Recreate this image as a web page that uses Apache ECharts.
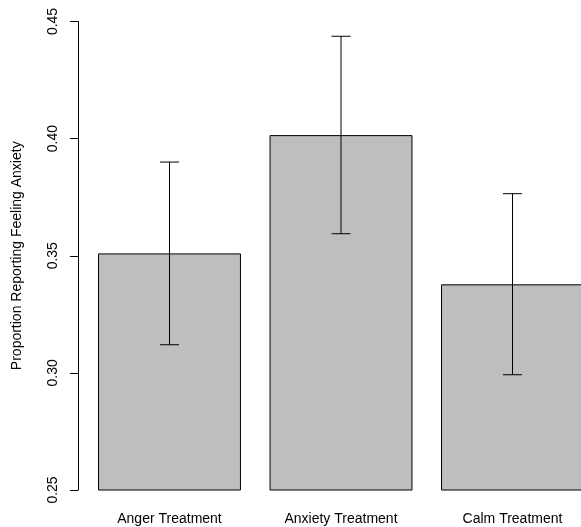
<!DOCTYPE html>
<html>
<head>
<meta charset="utf-8">
<script src="https://cdn.jsdelivr.net/npm/echarts@6/dist/echarts.min.js"></script>
<style>
html,body{margin:0;padding:0;background:#fff;}
#chart{width:581px;height:527px;}
</style>
</head>
<body>
<div id="chart"></div>
<script>
const categories = ['Anger Treatment', 'Anxiety Treatment', 'Calm Treatment'];
const means = [0.351, 0.4015, 0.3378];
const lowerCI = [0.312, 0.3594, 0.2992];
const upperCI = [0.390, 0.4437, 0.3765];
const yTicks = [0.25, 0.30, 0.35, 0.40, 0.45];

const chart = echarts.init(document.getElementById('chart'), null, {renderer: 'canvas'});
const FONT = 'Liberation Sans, Arial, Helvetica, sans-serif';

const errData = categories.map((c, i) => [i, lowerCI[i], upperCI[i]]);

chart.setOption({
  animation: false,
  backgroundColor: '#ffffff',
  grid: {left: 83.75, width: 514.5, top: 21.5, bottom: 37, containLabel: false, outerBoundsMode: 'none'},
  xAxis: {
    type: 'category',
    data: categories,
    boundaryGap: true,
    axisLine: {show: false},
    axisTick: {show: false},
    axisLabel: {color: '#000', fontFamily: FONT, fontSize: 14, margin: 22, interval: 0}
  },
  yAxis: {
    type: 'value',
    min: yTicks[0],
    max: yTicks[yTicks.length - 1],
    interval: 0.05,
    offset: 5.75,
    name: 'Proportion Reporting Feeling Anxiety',
    nameLocation: 'middle',
    nameRotate: 90,
    nameGap: 54,
    nameTextStyle: {color: '#000', fontFamily: FONT, fontSize: 14},
    axisLine: {show: true, lineStyle: {color: '#000', width: 1}},
    axisTick: {show: true, length: 8, lineStyle: {color: '#000', width: 1}},
    axisLabel: {
      color: '#000', fontFamily: FONT, fontSize: 14, rotate: 90, margin: 18,
      formatter: v => v.toFixed(2)
    },
    splitLine: {show: false}
  },
  series: [
    {
      type: 'bar',
      data: means,
      barWidth: '83.33%',
      itemStyle: {color: '#bebebe', borderColor: '#000', borderWidth: 1},
      z: 2
    },
    {
      type: 'custom',
      data: errData,
      z: 3,
      renderItem: function (params, api) {
        const top = api.coord([api.value(0), api.value(2)]);
        const bot = api.coord([api.value(0), api.value(1)]);
        const hw = 9.5;
        const style = {stroke: '#000', lineWidth: 1, fill: null};
        return {
          type: 'group',
          children: [
            {type: 'line', shape: {x1: top[0], y1: top[1], x2: bot[0], y2: bot[1]}, style: style},
            {type: 'line', shape: {x1: top[0] - hw, y1: top[1], x2: top[0] + hw, y2: top[1]}, style: style},
            {type: 'line', shape: {x1: bot[0] - hw, y1: bot[1], x2: bot[0] + hw, y2: bot[1]}, style: style}
          ]
        };
      }
    }
  ]
});
</script>
</body>
</html>
